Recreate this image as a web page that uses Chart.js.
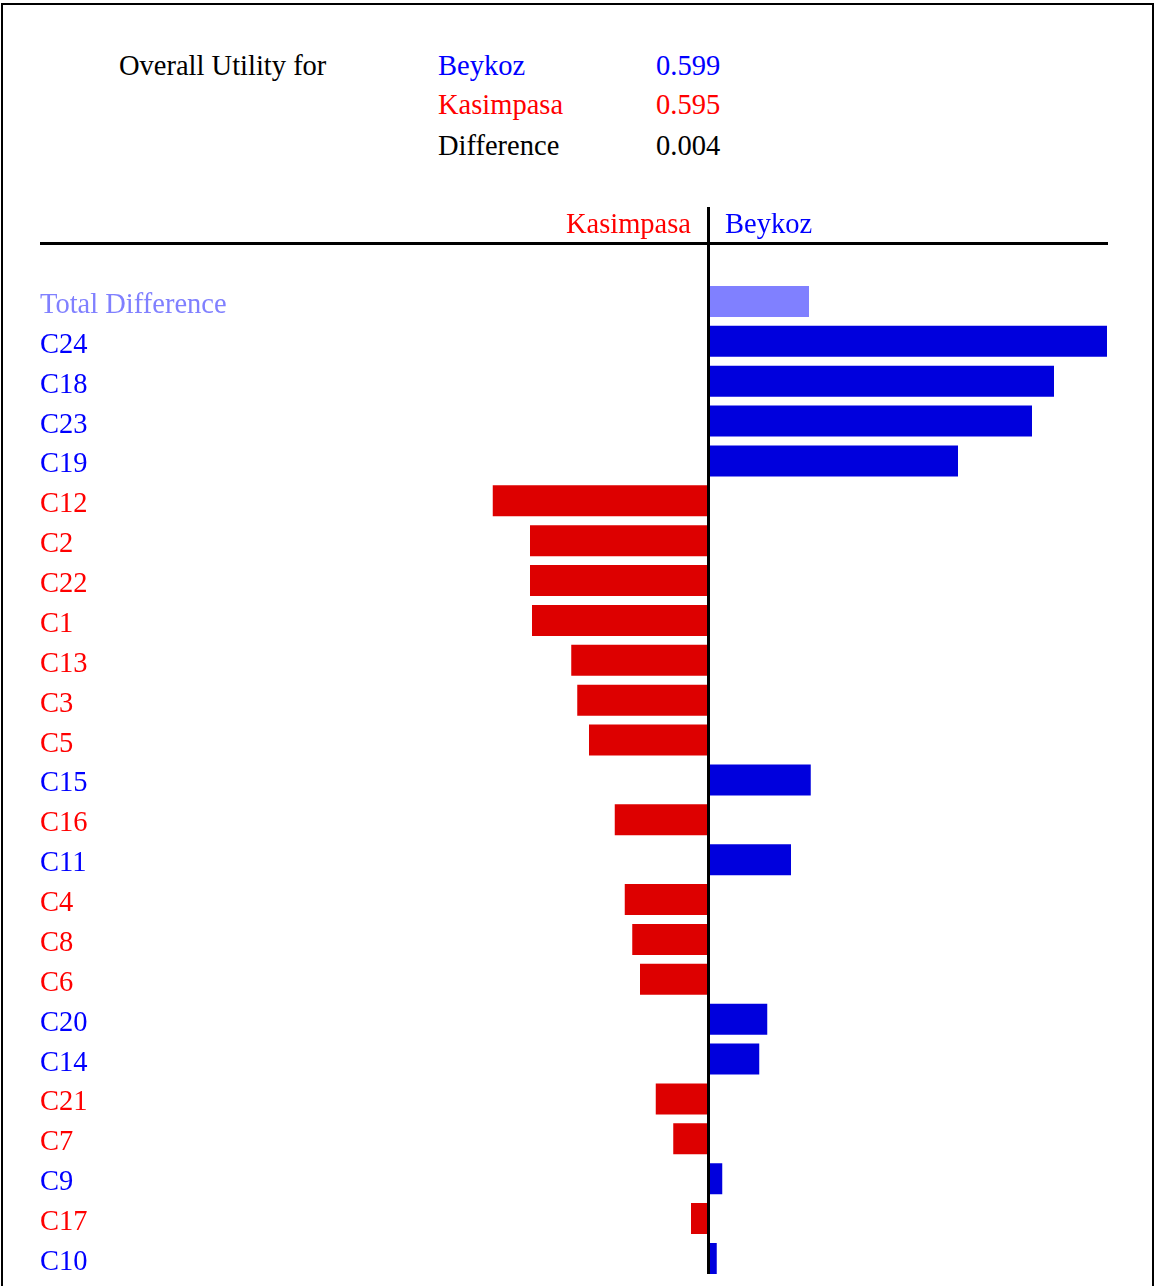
<!DOCTYPE html>
<html lang="en">
  <head>
    <meta charset="UTF-8" />
    <title>Overall Utility Difference</title>
    <script src="https://cdn.jsdelivr.net/npm/chart.js"></script>
    <style>
      body {
        margin: 0;
        background: #fff;
        font-family: "Liberation Serif", "Times New Roman", serif;
      }
      #frame {
        position: absolute;
        left: 1px;
        top: 3px;
        width: 1149px;
        height: 1400px;
        border: 2px solid #000;
        border-bottom: none;
      }
      .hd {
        position: absolute;
        font-size: 28.5px;
        line-height: 28.5px;
        white-space: nowrap;
      }
      #wrap {
        position: absolute;
        left: 0;
        top: 0;
        width: 1154px;
        height: 1286px;
        overflow: hidden;
      }
    </style>
  </head>

  <body>
    <div id="wrap">
      <div id="frame"></div>
      <div class="hd" style="left: 119px; top: 52px">Overall Utility for</div>
      <div class="hd" style="left: 438px; top: 52px; color: #0000ff">Beykoz</div>
      <div class="hd" style="left: 656px; top: 52px; color: #0000ff">0.599</div>
      <div class="hd" style="left: 438px; top: 91px; color: #ff0000">Kasimpasa</div>
      <div class="hd" style="left: 656px; top: 91px; color: #ff0000">0.595</div>
      <div class="hd" style="left: 438px; top: 132px">Difference</div>
      <div class="hd" style="left: 656px; top: 132px">0.004</div>
      <canvas id="myChart" width="1154" height="1286" style="position: absolute; left: 0; top: 0"></canvas>
    </div>

    <script>
      // criteria, sorted as in the picture
      const criteria = [
        "Total Difference", "C24", "C18", "C23", "C19", "C12", "C2", "C22", "C1",
        "C13", "C3", "C5", "C15", "C16", "C11", "C4", "C8", "C6", "C20", "C14",
        "C21", "C7", "C9", "C17", "C10",
      ];

      // weighted difference: positive favours Beykoz, negative favours Kasimpasa
      const differences = [
        0.00402, 0.01594, 0.01382, 0.01294, 0.00998, -0.00863, -0.00714, -0.00714, -0.00706,
        -0.00549, -0.00525, -0.00478, 0.00409, -0.00375, 0.0033, -0.00335, -0.00305, -0.00274,
        0.00235, 0.00203, -0.00211, -0.00141, 0.00055, -0.0007, 0.00033,
      ];

      const sideNames = ["Kasimpasa", "Beykoz"];

      const axisMin = -0.02674;
      const axisMax = 0.01598;

      const barColor = (i) => (i === 0 ? "#8080ff" : differences[i] >= 0 ? "#0000dd" : "#dd0000");
      const labelColor = (i) => (i === 0 ? "#8080ff" : differences[i] >= 0 ? "#0000ff" : "#ff0000");

      const serif = "'Liberation Serif', 'Times New Roman', serif";

      // centre line, header line and the two side names
      const centreAxis = {
        id: "centreAxis",
        afterDatasetsDraw(chart) {
          const { ctx, chartArea, scales } = chart;
          const x0 = scales.x.getPixelForValue(0);
          const lastY = scales.y.getPixelForValue(criteria.length - 1);
          const headY = chartArea.top - 38;

          ctx.save();
          ctx.strokeStyle = "#000";
          ctx.lineWidth = 3;
          ctx.beginPath();
          ctx.moveTo(chartArea.left, headY);
          ctx.lineTo(chartArea.right, headY);
          ctx.moveTo(x0, chartArea.top - 74.5);
          ctx.lineTo(x0, lastY + 15.5);
          ctx.stroke();

          ctx.font = "28.5px " + serif;
          ctx.textBaseline = "alphabetic";
          ctx.fillStyle = "#ff0000";
          ctx.textAlign = "right";
          ctx.fillText(sideNames[0], x0 - 17.5, headY - 10.5);
          ctx.fillStyle = "#0000ff";
          ctx.textAlign = "left";
          ctx.fillText(sideNames[1], x0 + 16.5, headY - 10.5);
          ctx.restore();
        },
      };

      const ctx = document.getElementById("myChart").getContext("2d");
      const myChart = new Chart(ctx, {
        type: "bar",
        data: {
          labels: criteria,
          datasets: [
            {
              data: differences,
              backgroundColor: criteria.map((c, i) => barColor(i)),
              borderWidth: 0,
              barPercentage: 1,
              categoryPercentage: 0.777,
            },
          ],
        },
        options: {
          indexAxis: "y",
          responsive: false,
          animation: false,
          layout: {
            padding: { left: 40, right: 46, top: 281.5, bottom: 7.6 },
          },
          plugins: {
            legend: { display: false },
            tooltip: { enabled: false },
          },
          scales: {
            x: {
              display: false,
              min: axisMin,
              max: axisMax,
            },
            y: {
              grid: { display: false },
              border: { display: false },
              afterFit: (scale) => {
                scale.width = 0;
                scale.paddingTop = 0;
                scale.paddingBottom = 0;
              },
              ticks: {
                mirror: true,
                padding: 0,
                labelOffset: 4,
                autoSkip: false,
                font: { family: serif, size: 28.5 },
                color: (c) => labelColor(c.index),
              },
            },
          },
        },
        plugins: [centreAxis],
      });
    </script>
  </body>
</html>
